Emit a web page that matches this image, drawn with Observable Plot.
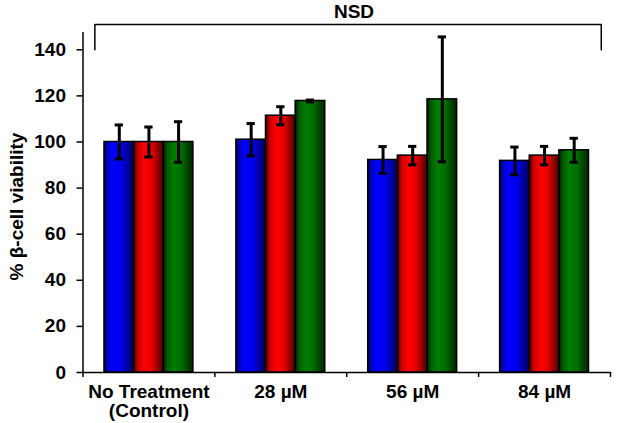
<!DOCTYPE html>
<html><head><meta charset="utf-8">
<script src="https://cdn.jsdelivr.net/npm/d3@7"></script>
<script src="https://cdn.jsdelivr.net/npm/@observablehq/plot@0.6"></script>
<style>body{margin:0;background:#fff}#chart svg{display:block}</style>
</head><body><div id="chart"></div>
<script>
// ---- data ----
const groups = ["No Treatment\n(Control)", "28 µM", "56 µM", "84 µM"];
const seriesNames = ["Blue", "Red", "Green"];
const blueValues = [100, 101.0, 92.2, 91.8];
const blueErrors = [7.4, 7.0, 5.8, 6.0];
const redValues = [100, 111.4, 94.1, 94.1];
const redErrors = [6.5, 3.9, 4.0, 4.0];
const greenValues = [100, 117.8, 118.5, 96.4];
const greenErrors = [8.8, 0.4, 27.1, 5.2];
const yTicks = [0, 20, 40, 60, 80, 100, 120, 140];
const yLabel = "% β-cell viability";
const annotationText = "NSD";

// ---- styles ----
const gradientStops = [
  [["0", "#00003a"], ["0.12", "#0000c8"], ["0.32", "#0000ff"], ["0.6", "#0000e6"], ["1", "#000058"]],
  [["0", "#3a0000"], ["0.14", "#c80000"], ["0.38", "#ff0000"], ["0.62", "#e60000"], ["1", "#4a0000"]],
  [["0", "#001c00"], ["0.14", "#005c00"], ["0.36", "#007f00"], ["0.62", "#006c00"], ["1", "#002200"]]
];
const bracket = {x1: 0.09, x2: 3.93, y: 151, yLeg: 140, textX: 2.055, textY: 156.5};

const valueSets = [blueValues, redValues, greenValues];
const errorSets = [blueErrors, redErrors, greenErrors];
const sub = d3.scaleBand(seriesNames, [0, 1]).paddingInner(0).paddingOuter(0.725);
const bw = sub.bandwidth();
const rows = [];
groups.forEach((g, gi) => seriesNames.forEach((s, si) => {
  const x1 = gi + sub(s);
  rows.push({group: g, series: s, si, value: valueSets[si][gi], err: errorSets[si][gi],
             x1, x2: x1 + bw, xc: x1 + bw / 2});
}));
const capHalf = bw * 0.14;

const defs = () => {
  const ns = "http://www.w3.org/2000/svg";
  const d = document.createElementNS(ns, "defs");
  gradientStops.forEach((stops, k) => {
    const lg = document.createElementNS(ns, "linearGradient");
    lg.setAttribute("id", "grad" + k);
    lg.setAttribute("x1", "0"); lg.setAttribute("x2", "1");
    lg.setAttribute("y1", "0"); lg.setAttribute("y2", "0");
    stops.forEach(([o, c]) => {
      const st = document.createElementNS(ns, "stop");
      st.setAttribute("offset", o); st.setAttribute("stop-color", c);
      lg.appendChild(st);
    });
    d.appendChild(lg);
  });
  return d;
};

const font = {fontSize: 19, fontWeight: "bold"};

const chart = Plot.plot({
  width: 617,
  height: 423,
  marginLeft: 82.5,
  marginRight: 7,
  marginTop: 32,
  marginBottom: 51,
  style: {fontFamily: "'Liberation Sans', Arial, sans-serif", background: "#fff", color: "#000", fontSize: "19px", fontWeight: "bold"},
  x: {type: "linear", domain: [0, 4], axis: null},
  y: {domain: [0, 147.5], axis: null},
  marks: [
    defs,
    ...seriesNames.map((s, k) => Plot.rectY(rows, {
      filter: d => d.si === k, x1: "x1", x2: "x2", y1: 0, y2: "value",
      fill: `url(#grad${k})`, stroke: "#000", strokeWidth: 1.5
    })),
    Plot.ruleX(rows, {x: "xc", y1: d => d.value - d.err, y2: d => d.value + d.err, stroke: "#000", strokeWidth: 3}),
    Plot.ruleY(rows, {y: d => d.value - d.err, x1: d => d.xc - capHalf, x2: d => d.xc + capHalf, stroke: "#000", strokeWidth: 3}),
    Plot.ruleY(rows, {y: d => d.value + d.err, x1: d => d.xc - capHalf, x2: d => d.xc + capHalf, stroke: "#000", strokeWidth: 3}),
    Plot.ruleY([0], {stroke: "#000", strokeWidth: 1.5}),
    Plot.ruleX([0], {stroke: "#000", strokeWidth: 1.5}),
    Plot.axisY(yTicks, {tickSize: 6, tickPadding: 11, strokeWidth: 1.5, label: null, ...font}),
    Plot.axisX(d3.range(groups.length + 1), {tickSize: 5, strokeWidth: 1.5, tickFormat: () => "", label: null}),
    Plot.axisX(groups.map((g, i) => i + 0.5), {tickSize: 0, tickPadding: 12, label: null,
      tickFormat: v => groups[Math.floor(v)], lineHeight: 1.0, ...font}),
    Plot.text([yLabel], {frameAnchor: "left", textAnchor: "middle", dx: -66, dy: 4, rotate: -90, ...font}),
    Plot.line([[bracket.x1, bracket.yLeg], [bracket.x1, bracket.y], [bracket.x2, bracket.y], [bracket.x2, bracket.yLeg]],
      {stroke: "#000", strokeWidth: 1.5}),
    Plot.text([annotationText], {x: () => bracket.textX, y: () => bracket.textY, ...font})
  ]
});
document.getElementById("chart").appendChild(chart);
</script>
</body></html>
